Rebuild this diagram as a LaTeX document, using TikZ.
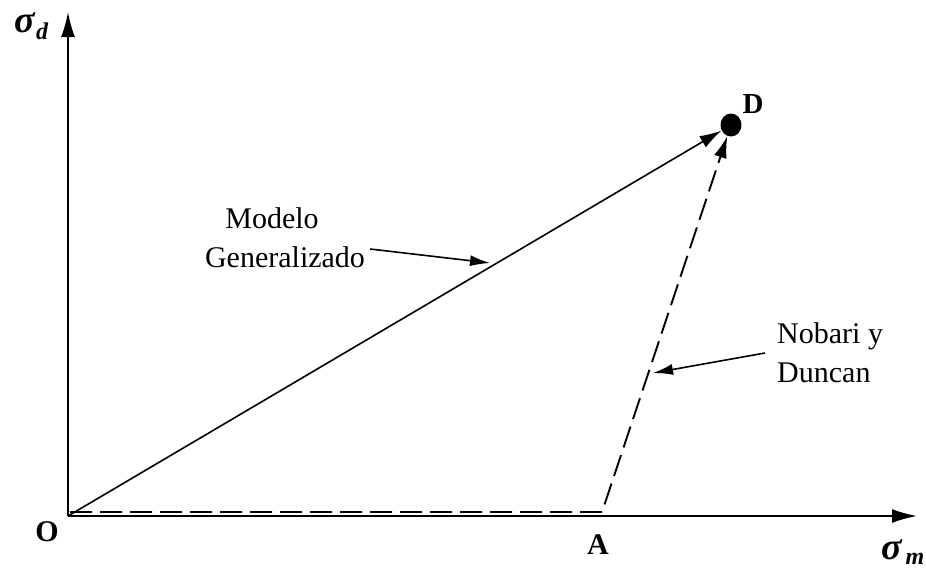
\documentclass[tikz,border=0pt]{standalone}
\usepackage{fontspec}
\setmainfont{Liberation Serif}
\usetikzlibrary{arrows.meta,shapes.geometric}
\begin{document}
\begin{tikzpicture}[x=1pt,y=-1pt,
  axis/.style={line width=1.8pt,-{Latex[length=25pt,width=14pt]}},
  mainarrow/.style={line width=1.6pt,-{Latex[length=22pt,width=13pt]}},
  dasharrow/.style={line width=1.9pt,dash pattern=on 22pt off 8pt,-{Latex[length=22pt,width=13pt]}},
  lblarrow/.style={line width=1.6pt,-{Latex[length=20pt,width=11pt]}},
  lbl/.style={inner sep=0pt,font=\fontsize{30}{36}\selectfont},
  pt/.style={inner sep=0pt,font=\fontsize{30}{36}\selectfont\bfseries},
  sig/.style={inner sep=0pt,font=\fontsize{38}{38}\selectfont\bfseries\itshape},
  sub/.style={inner sep=0pt,font=\fontsize{24}{24}\selectfont\bfseries\itshape},
  dot/.style={ellipse,fill=black,draw=none,minimum width=21pt,minimum height=23pt,inner sep=0pt}]
\useasboundingbox (0,0) rectangle (926,570);
\coordinate (O) at (68,516);
\coordinate (ytip) at (68,12);
\coordinate (xtip) at (917,516);
\coordinate (O2) at (70,512);
\coordinate (A) at (602,512);
\node[dot] (D) at (731,125) {};
\draw[axis] (O) -- (ytip);
\draw[axis] (O) -- (xtip);
\draw[mainarrow] (O) -- (D);
\draw[dasharrow] (O2) -- (A) -- (D);
% labels
\node[pt] (lO) at (47,532) {O};
\node[pt] (lA) at (598,545) {A};
\node[pt,font=\fontsize{29}{32}\selectfont\bfseries] (lD) at (753,104) {D};
\node[sig] (sd) at (25,23) {σ};
\node[sub] (sdsub) at (42,31) {d};
\node[sig] (sm) at (892,550) {σ};
\node[sub] (smsub) at (915,559) {m};
\node[lbl,anchor=base] (mg1) at (272,228) {Modelo};
\node[lbl,anchor=base] (mg2) at (285,267) {Generalizado};
\node[lbl,anchor=base west] (nd1) at (777,343) {Nobari y};
\node[lbl,anchor=base west] (nd2) at (777,382) {Duncan};
\coordinate (mgtip) at (490,263);
\coordinate (mgstart) at (370,249);
\coordinate (ndtip) at (653,373);
\coordinate (ndstart) at (765,353);
\draw[lblarrow] (mgstart) -- (mgtip);
\draw[lblarrow] (ndstart) -- (ndtip);
\end{tikzpicture}
\end{document}
